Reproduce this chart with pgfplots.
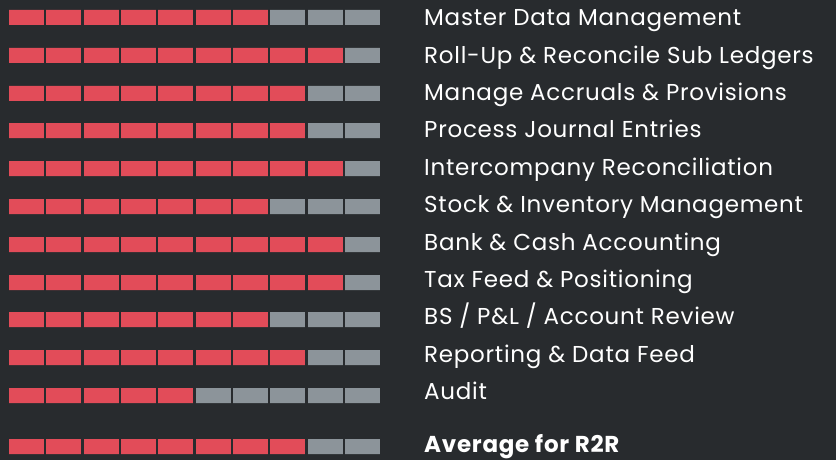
\documentclass[border=0pt]{standalone}
\usepackage{pgfplots}
\pgfplotsset{compat=1.18}
\usepackage{pgfplotstable}
\usepackage{fontspec}
\setmainfont{Poppins}[LetterSpace=3.2]
\definecolor{bg}{HTML}{282B2E}
\definecolor{redseg}{HTML}{E24C59}
\definecolor{grayseg}{HTML}{8C949A}
\pgfplotstableread{
y red gray
17.5 7 3
55.5 9 1
93.5 8 2
130.5 8 2
168.5 9 1
206.5 7 3
244.5 9 1
282.5 9 1
319.5 7 3
357.5 8 2
395.5 5 5
446.5 8 2
}\segdata
\tikzset{lbl/.style={text=white, font=\fontsize{23}{28}\selectfont, anchor=base west, inner sep=0pt}}
\begin{document}
\begin{tikzpicture}
\begin{axis}[
  name=ax,
  scale only axis,
  width=836pt, height=460pt,
  xmin=-0.2103, xmax=22.185,
  ymin=0, ymax=460, y dir=reverse,
  axis background/.style={fill=bg},
  axis line style={draw=none},
  xtick={0,...,10}, xticklabels={},
  ytick=\empty,
  major tick length=0pt,
  xmajorgrids,
  grid style={draw=bg, line width=2.33pt},
  axis on top,
  xbar stacked,
  bar width=15,
  clip=false,
]
\addplot[fill=redseg, draw=none] table[x=red, y=y] {\segdata};
\addplot[fill=grayseg, draw=none] table[x=gray, y=y] {\segdata};
\node[lbl] at (axis cs:11.148,25.7) {Master Data Management};
\node[lbl] at (axis cs:11.148,63.1) {Roll-Up \& Reconcile Sub Ledgers};
\node[lbl] at (axis cs:11.148,100.5) {Manage Accruals \& Provisions};
\node[lbl] at (axis cs:11.148,137.9) {Process Journal Entries};
\node[lbl] at (axis cs:11.148,175.3) {Intercompany Reconciliation};
\node[lbl] at (axis cs:11.148,212.7) {Stock \& Inventory Management};
\node[lbl] at (axis cs:11.148,250.1) {Bank \& Cash Accounting};
\node[lbl] at (axis cs:11.148,287.5) {Tax Feed \& Positioning};
\node[lbl] at (axis cs:11.148,324.9) {BS / P\&L / Account Review};
\node[lbl] at (axis cs:11.148,362.3) {Reporting \& Data Feed};
\node[lbl] at (axis cs:11.148,399.7) {Audit};
\node[lbl, font=\fontsize{23}{28}\selectfont\bfseries] at (axis cs:11.148,452) {Average for R2R};
\end{axis}
\pgfresetboundingbox
\path[use as bounding box] (ax.south west) rectangle (ax.north east);
\end{tikzpicture}
\end{document}
